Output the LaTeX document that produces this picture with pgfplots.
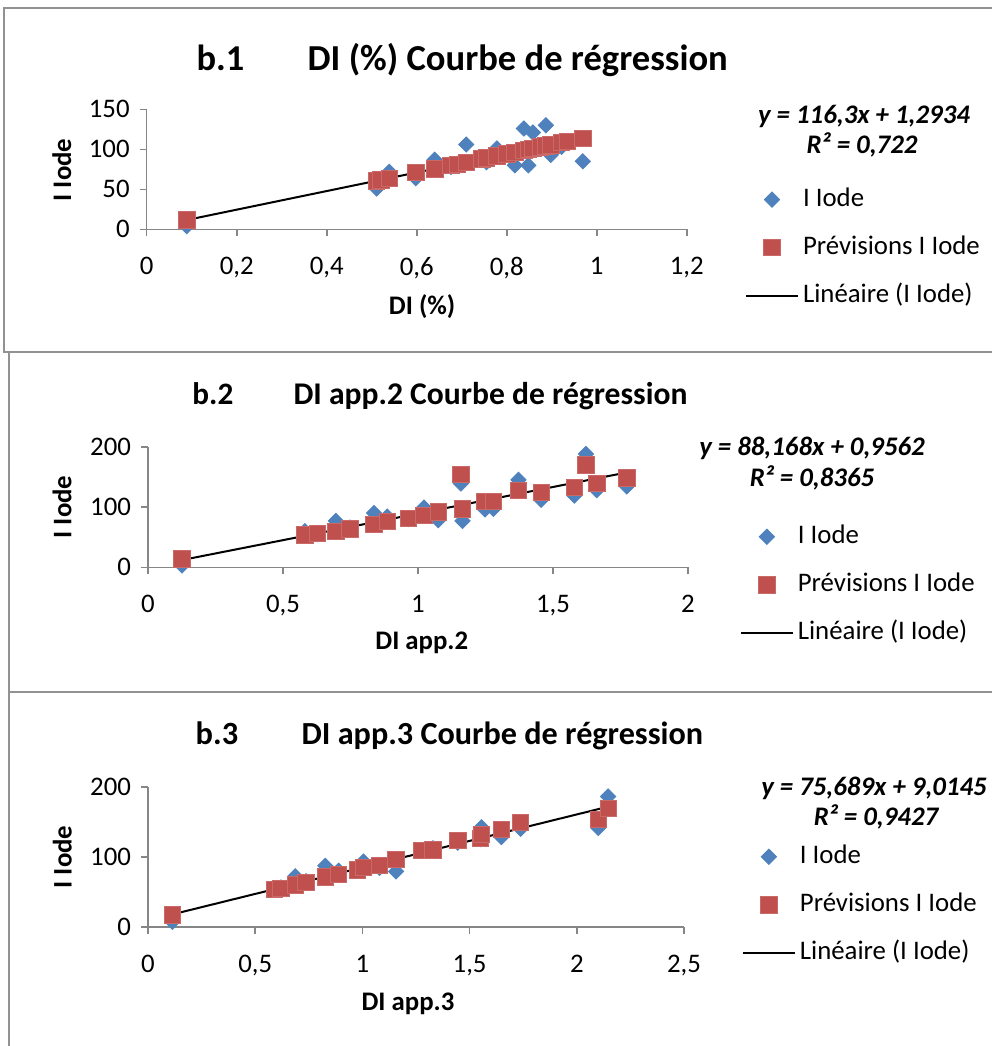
\documentclass[border=0pt]{standalone}
\usepackage{fontspec}
\setmainfont{Carlito}
\usepackage{pgfplots}
\usepackage{pgfplotstable}
\pgfplotsset{compat=1.18}

\definecolor{xlblue}{HTML}{4F81BD}
\definecolor{xlred}{HTML}{C0504D}
\definecolor{xlgray}{HTML}{868686}

\newcommand\fn{\fontsize{13.4bp}{16bp}\selectfont}
\newcommand\ftitle[1]{\fontsize{#1}{20bp}\selectfont\bfseries}

% x, I Iode, Previsions I Iode
\pgfplotstableread{
x     obs   prev
0.089 4     11.6
0.511 51    60.7
0.520 57    61.8
0.539 72    64.0
0.598 64    70.8
0.640 87    75.7
0.676 78    79.9
0.690 82    81.5
0.710 106   83.9
0.745 88    87.9
0.755 84    89.1
0.778 101   91.8
0.800 94    94.3
0.818 80    96.4
0.838 126   98.8
0.848 80    99.9
0.858 121   101.1
0.875 103   103.1
0.887 130   104.5
0.898 93    105.7
0.922 103   108.5
0.935 110   110.0
0.969 85    114.0
}\dataA

\pgfplotstableread{
x     obs  prev
0.126 3    14
0.581 60   54
0.627 55   56
0.696 77   60
0.748 66   64
0.837 90   71
0.886 84   76
0.964 80   81
1.022 99   86
1.075 78   92
1.159 139  154
1.165 77   97
1.248 96   109
1.279 97   109
1.372 145  128
1.456 112  124
1.579 119  133
1.622 188  170
1.662 128  139
1.773 134  148
}\dataB

\pgfplotstableread{
x     obs  prev
0.114 7    17
0.589 54   53
0.620 56   55
0.687 72   60
0.737 65   63
0.827 87   71
0.889 80   75
0.978 82   81
1.005 93   85
1.080 84   88
1.157 79   96
1.274 108  109
1.329 112  110
1.445 120  123
1.550 125  126
1.555 142  132
1.648 128  139
1.738 140  149
2.100 141  153
2.146 186  169
}\dataC

\pgfplotsset{
  leg/.style={legend image code/.code={
    \draw[mark repeat=2,mark phase=2,##1] plot coordinates {(0bp,0bp)(13bp,0bp)(26bp,0bp)};}},
  obs/.style={only marks, mark=square*, mark size=2.7bp,
    mark options={rotate=45, fill=xlblue, draw=xlblue}, leg},
  prev/.style={only marks, mark=square*, mark size=4.1bp,
    mark options={fill=xlred, draw=xlred!85}, leg},
  fit/.style={black, line width=1bp, no marks, leg},
  xl/.style={
    scale only axis, anchor=south west, clip=false,
    axis lines*=left, ymin=0,
    axis line style={xlgray, line width=0.8bp},
    tick style={xlgray, line width=0.8bp},
    tick align=outside, major tick length=3.5bp,
    tick label style={font=\fn},
    yticklabel style={xshift=-1.5bp},
    /pgf/number format/assume math mode=true,
    /pgf/number format/use comma,
    xticklabel style={yshift=-7bp},
    label style={font=\fn\bfseries},
    legend cell align=left,
    legend style={draw=none, fill=none, inner sep=0pt, outer sep=0pt,
      anchor=north west, font=\fn, row sep=10.5bp, /tikz/column sep=2bp,
      nodes={inner sep=0pt, text height=10bp, text depth=3.5bp}},
  },
}

\begin{document}
\begin{tikzpicture}
\begin{scope}[x=0.5bp,y=-0.5bp]
  % chart frames
  \draw[xlgray!90, line width=1bp] (4,8) rectangle (1010,352);
  \draw[xlgray!90, line width=1bp] (9,352) rectangle (1010,692);
  \draw[xlgray!90, line width=1bp] (9,692) rectangle (1010,1060);
  \coordinate (o1) at (146.7,229.3);
  \coordinate (o2) at (148,567.3);
  \coordinate (o3) at (148,926.7);
  % titles
  \node[anchor=base west, inner sep=0] at (188,70) {\ftitle{18.2bp} b.1};
  \node[anchor=base west, inner sep=0] at (299,70) {\ftitle{18.3bp} DI (\%) Courbe de régression};
  \node[anchor=base west, inner sep=0] at (185,404) {\ftitle{15.6bp} b.2};
  \node[anchor=base west, inner sep=0] at (286,404) {\ftitle{15.8bp} DI app.2 Courbe de régression};
  \node[anchor=base west, inner sep=0] at (188,744) {\ftitle{16.2bp} b.3};
  \node[anchor=base west, inner sep=0] at (294,744) {\ftitle{16.1bp} DI app.3 Courbe de régression};
  % trend line equations
  \node[anchor=base, inner sep=0] at (864,123.6) {\fn\bfseries\itshape y = 116,3x + 1,2934};
  \node[anchor=base, inner sep=0] at (862,153.6) {\fn\bfseries\itshape R² = 0,722};
  \node[anchor=base, inner sep=0] at (812,455.6) {\fn\bfseries\itshape y = 88,168x + 0,9562};
  \node[anchor=base, inner sep=0] at (812,486.6) {\fn\bfseries\itshape R² = 0,8365};
  \node[anchor=base, inner sep=0] at (874,795.6) {\fn\bfseries\itshape y = 75,689x + 9,0145};
  \node[anchor=base, inner sep=0] at (876,825.6) {\fn\bfseries\itshape R² = 0,9427};
\end{scope}

\begin{axis}[xl, at={(o1)}, width=270bp, height=60bp,
  xmin=0, xmax=1.2, xtick={0,0.2,...,1.2}, ymax=150, ytick={0,50,100,150},
  xlabel={DI (\%)}, ylabel={I Iode},
  xlabel style={at={(axis description cs:0.51,-0.6475)}, anchor=center},
  ylabel style={at={(axis description cs:-0.157,0.494)}, anchor=center},
  legend style={at={(axis description cs:1.108,0.36)}}]
\addplot[obs] table[x=x, y=obs] {\dataA};
\addplot[prev] table[x=x, y=prev] {\dataA};
\addplot[fit] coordinates {(0.089,11.64) (0.969,113.99)};
\legend{I Iode, Prévisions I Iode, Linéaire (I Iode)}
\end{axis}

\begin{axis}[xl, at={(o2)}, width=270bp, height=60.3bp,
  xmin=0, xmax=2, xtick={0,0.5,...,2}, ymax=200, ytick={0,100,200},
  xlabel={DI app.2}, ylabel={I Iode},
  xlabel style={at={(axis description cs:0.507,-0.628)}, anchor=center},
  ylabel style={at={(axis description cs:-0.159,0.5)}, anchor=center},
  legend style={at={(axis description cs:1.096,0.365)}}]
\addplot[obs] table[x=x, y=obs] {\dataB};
\addplot[prev] table[x=x, y=prev] {\dataB};
\addplot[fit] coordinates {(0.126,12.07) (1.773,157.28)};
\legend{I Iode, Prévisions I Iode, Linéaire (I Iode)}
\end{axis}

\begin{axis}[xl, at={(o3)}, width=268bp, height=70bp,
  xmin=0, xmax=2.5, xtick={0,0.5,...,2.5}, ymax=200, ytick={0,100,200},
  xlabel={DI app.3}, ylabel={I Iode},
  xlabel style={at={(axis description cs:0.485,-0.55)}, anchor=center},
  ylabel style={at={(axis description cs:-0.160,0.498)}, anchor=center},
  legend style={at={(axis description cs:1.108,0.596)}}]
\addplot[obs] table[x=x, y=obs] {\dataC};
\addplot[prev] table[x=x, y=prev] {\dataC};
\addplot[fit] coordinates {(0.114,17.64) (2.146,171.44)};
\legend{I Iode, Prévisions I Iode, Linéaire (I Iode)}
\end{axis}

\pgfresetboundingbox
\begin{scope}[x=0.5bp,y=-0.5bp]
  \path[use as bounding box] (0,0) rectangle (992,1046);
\end{scope}
\end{tikzpicture}
\end{document}
